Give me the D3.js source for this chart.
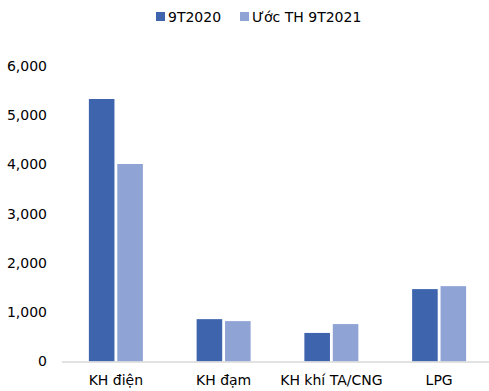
<!DOCTYPE html>
<html>
<head>
<meta charset="utf-8">
<script src="https://cdn.jsdelivr.net/npm/d3@7"></script>
<style>
  html, body { margin: 0; padding: 0; background: #fff; }
  svg { display: block; font-family: "DejaVu Sans", Verdana, sans-serif; }
</style>
</head>
<body>
<svg id="chart" width="489" height="391"></svg>
<script>
// Categories and series values
const categories = ["KH điện", "KH đạm", "KH khí TA/CNG", "LPG"];
const seriesNames = ["9T2020", "Ước TH 9T2021"];
const values2020 = [5330, 860, 580, 1470];
const values2021 = [4010, 820, 760, 1530];
const yTicks = [0, 1000, 2000, 3000, 4000, 5000, 6000];
const colors = ["#3E64AD", "#8FA4D5"];

const svg = d3.select("#chart");
const plot = { left: 62, right: 493, top: 66, bottom: 361.5 };

const x0 = d3.scaleBand().domain(categories).range([plot.left, plot.right]).padding(0);
const x1 = d3.scaleBand().domain(seriesNames).range([-27, 27]).paddingInner(0.1);
const y = d3.scaleLinear().domain([0, 6000]).range([plot.bottom, plot.top]);
const color = d3.scaleOrdinal().domain(seriesNames).range(colors);

const fmt = d3.format(",");

// Y axis labels (no axis line, no ticks)
const yAxis = svg.append("g")
  .attr("transform", `translate(47,0)`)
  .call(d3.axisLeft(y).tickValues(yTicks).tickFormat(fmt).tickSize(0).tickPadding(0));
yAxis.select(".domain").remove();
yAxis.selectAll("text")
  .attr("font-family", "DejaVu Sans, sans-serif")
  .attr("font-size", 14)
  .attr("fill", "#000");

// Bars
const rows = categories.map((c, i) => ({ category: c, vals: [values2020[i], values2021[i]] }));
const groups = svg.append("g").selectAll("g")
  .data(rows)
  .join("g")
  .attr("transform", d => `translate(${x0(d.category) + x0.bandwidth() / 2},0)`);

groups.selectAll("rect")
  .data(d => d.vals.map((v, j) => ({ series: seriesNames[j], value: v })))
  .join("rect")
  .attr("x", d => x1(d.series))
  .attr("width", x1.bandwidth())
  .attr("y", d => y(d.value))
  .attr("height", d => y(0) - y(d.value))
  .attr("fill", d => color(d.series));

// X axis baseline and category labels
const xAxis = svg.append("g")
  .attr("transform", `translate(0,${plot.bottom})`)
  .call(d3.axisBottom(x0).tickSize(0).tickPadding(14));
xAxis.select(".domain")
  .attr("d", `M${plot.left},0.5H489`)
  .attr("stroke", "#D9D9D9")
  .attr("stroke-width", 1.5);
xAxis.selectAll("text")
  .attr("font-family", "DejaVu Sans, sans-serif")
  .attr("font-size", 14)
  .attr("fill", "#000");

// Legend
const legendItems = [
  { name: seriesNames[0], x: 156 },
  { name: seriesNames[1], x: 240 }
];
const legend = svg.append("g").selectAll("g")
  .data(legendItems)
  .join("g")
  .attr("transform", d => `translate(${d.x},12)`);
legend.append("rect")
  .attr("width", 9).attr("height", 9)
  .attr("fill", d => color(d.name));
legend.append("text")
  .attr("x", 12).attr("y", 10)
  .attr("font-size", 14)
  .attr("fill", "#000")
  .text(d => d.name);
</script>
</body>
</html>
